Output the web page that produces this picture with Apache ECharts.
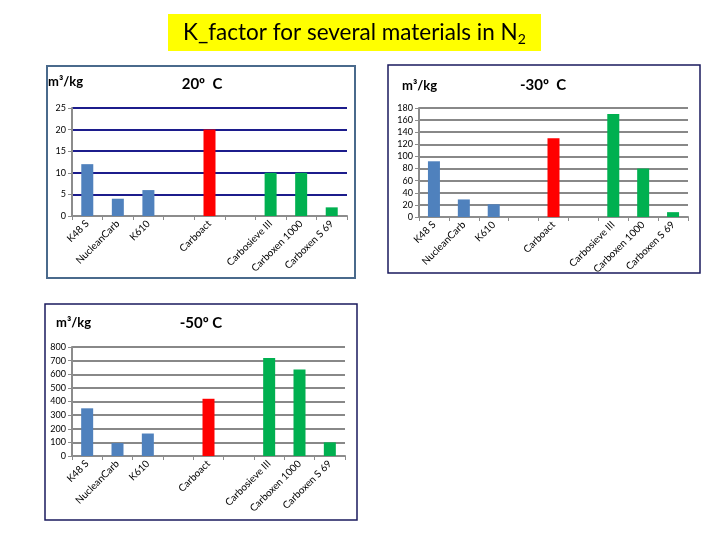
<!DOCTYPE html>
<html><head><meta charset="utf-8">
<script src="https://cdn.jsdelivr.net/npm/echarts@6/dist/echarts.min.js"></script>
<style>html,body{margin:0;padding:0;background:#fff}#c{width:720px;height:540px}</style>
</head><body><div id="c"></div>
<script>
const categories = ['K48 S','NucleanCarb','K610','','Carboact','','Carbosieve III','Carboxen 1000','Carboxen S 69'];
const barColors = ['#4f81bd','#4f81bd','#4f81bd','#4f81bd','#ff0000','#00b050','#00b050','#00b050','#00b050'];
const values20 = [12, 4, 6, null, 20, null, 10, 10, 2];
const values30 = [92, 29, 21, null, 130, null, 170, 80, 8];
const values50 = [350, 95, 165, null, 420, null, 720, 635, 100];
const yMax = [25, 180, 800];
const yStep = [5, 20, 100];

const chart = echarts.init(document.getElementById('c'));
const font = 'Lato, "Liberation Sans", sans-serif';
const grids = [
  {left:72, top:108, width:275, height:108},
  {left:419, top:108, width:269, height:109},
  {left:72, top:347, width:273, height:109}
];
const gridColors = ['#1c1c8c','#888888','#888888'];
const xAxes = grids.map((g,i)=>({
  type:'category', gridIndex:i, data:categories, boundaryGap:true,
  axisLine:{lineStyle:{color:'#8c8c8c',width:2}},
  axisTick:{show:true,alignWithLabel:false,length:4,lineStyle:{color:'#8c8c8c',width:1}},
  axisLabel:{rotate:45,interval:0,fontSize:10,color:'#000',fontFamily:font,margin:6}
}));
const yAxes = grids.map((g,i)=>({
  type:'value', gridIndex:i, min:0, max:yMax[i], interval:yStep[i],
  axisLine:{show:true,lineStyle:{color:'#8c8c8c',width:2}},
  axisTick:{show:true,length:4,lineStyle:{color:'#8c8c8c'}},
  axisLabel:{fontSize:9,color:'#000',fontFamily:font,margin:6},
  splitLine:{show:true,lineStyle:{color:gridColors[i],width:2}}
}));
const mk = (vals,i)=>({
  type:'bar', xAxisIndex:i, yAxisIndex:i, barWidth:12,
  data: vals.map((v,k)=>({value:v, itemStyle:{color:barColors[k]}}))
});
const txt = (x,y,t,size,align)=>({type:'text',x:x,y:y,style:{text:t,fill:'#000',font:'bold '+size+'px '+font,textAlign:align||'left',textVerticalAlign:'middle'}});
chart.setOption({
  animation:false,
  grid:grids,
  xAxis:xAxes,
  yAxis:yAxes,
  series:[mk(values20,0),mk(values30,1),mk(values50,2)],
  graphic:[
    {type:'rect',shape:{x:47,y:66,width:308,height:212},style:{fill:'none',stroke:'#4a6a8c',lineWidth:2},z:-1},
    {type:'rect',shape:{x:388,y:65,width:312,height:208},style:{fill:'none',stroke:'#1a1a5e',lineWidth:1.5},z:-1},
    {type:'rect',shape:{x:45,y:304,width:312,height:216},style:{fill:'none',stroke:'#1a1a5e',lineWidth:1.5},z:-1},
    {type:'rect',shape:{x:168,y:14,width:373,height:37},style:{fill:'#ffff00'},z:-1},
    {type:'text',x:183,y:33,style:{
      rich:{n:{fontSize:22.5,fontFamily:font,fill:'#000'},s:{fontSize:14,fontFamily:font,fill:'#000',padding:[12,0,0,0]}},
      text:'{n|K_factor for several materials in N}{s|2}', textVerticalAlign:'middle', fill:'#000'}},
    txt(48,82,'m³/kg',13),
    txt(402,86,'m³/kg',13),
    txt(56,323,'m³/kg',13),
    txt(202,84,'20º  C',15,'center'),
    txt(543,85,'-30º  C',15,'center'),
    txt(201,323,'-50º C',15,'center')
  ]
});
</script></body></html>
